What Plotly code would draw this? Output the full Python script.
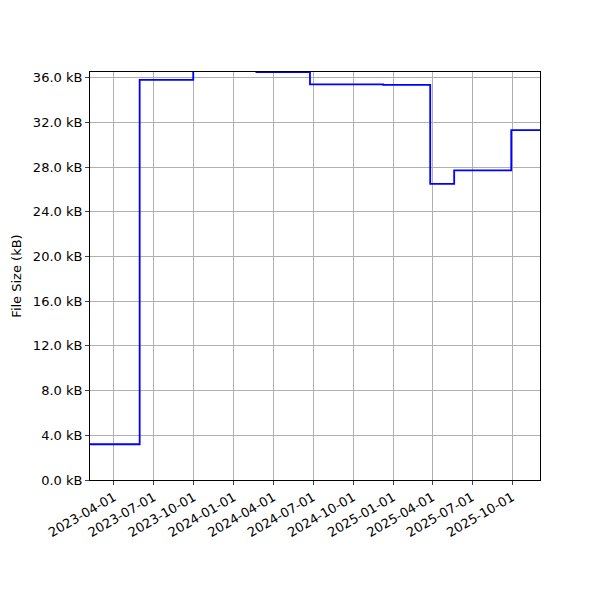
import plotly.graph_objects as go

dates = ["2023-02-05", "2023-05-30", "2023-09-30", "2024-02-22", "2024-06-24",
         "2024-12-09", "2025-03-27", "2025-05-21", "2025-09-29", "2025-12-04"]
sizes_kb = [3.2, 35.8, 38.5, 36.5, 35.4, 35.35, 26.5, 27.7, 31.3, 31.3]

tick_vals = [i * 4 for i in range(10)]
tick_text = [f"{v:.1f} kB" for v in tick_vals]
x_ticks = ["2023-04-01", "2023-07-01", "2023-10-01", "2024-01-01", "2024-04-01", "2024-07-01",
           "2024-10-01", "2025-01-01", "2025-04-01", "2025-07-01", "2025-10-01"]

fig = go.Figure(go.Scatter(x=dates, y=sizes_kb, mode="lines", line=dict(color="blue", width=1.8, shape="hv")))
ax = dict(showline=True, linecolor="black", linewidth=1, mirror=True, ticks="outside", ticklen=4,
          showgrid=True, gridcolor="#b0b0b0", gridwidth=1, zeroline=False, automargin=False,
          tickfont=dict(family="DejaVu Sans", size=13, color="black"))
fig.update_xaxes(**ax, range=["2023-02-05", "2025-12-04"], tickvals=x_ticks, ticktext=x_ticks, tickangle=-30)
fig.update_yaxes(**ax, range=[0, 36.5], tickvals=tick_vals, ticktext=tick_text,
                 title=dict(text="File Size (kB)", standoff=8,
                            font=dict(family="DejaVu Sans", size=13, color="black")))
fig.update_layout(width=600, height=600, margin=dict(l=82, r=68, t=64, b=128),
                  plot_bgcolor="white", paper_bgcolor="white", showlegend=False)
fig.write_html("out.html")
